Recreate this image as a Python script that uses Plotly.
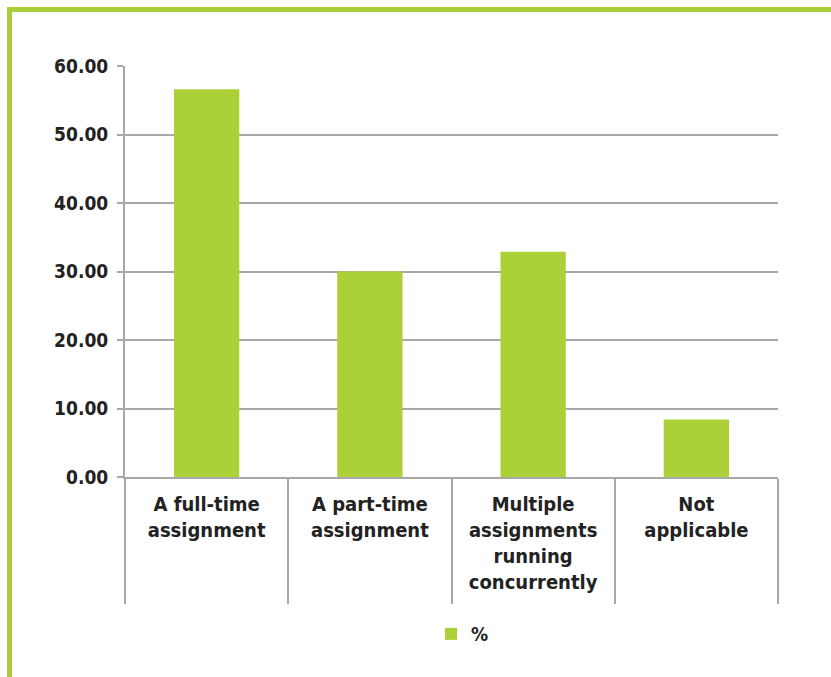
import plotly.graph_objects as go

# Survey responses: type of assignment (share of respondents, %)
categories = [
    "A full-time<br>assignment",
    "A part-time<br>assignment",
    "Multiple<br>assignments<br>running<br>concurrently",
    "Not<br>applicable",
]
values = [56.6, 30.0, 32.9, 8.4]
series_name = "%"
y_ticks = [0, 10, 20, 30, 40, 50, 60]

BAR_GREEN = "#acd037"
FRAME_GREEN = "#a9cf38"
GRID_GRAY = "#a8a8a8"
TEXT = "#222222"
FONT = "DejaVu Sans Condensed, DejaVu Sans"

fig = go.Figure(
    go.Bar(
        x=categories,
        y=values,
        name=series_name,
        marker=dict(color=BAR_GREEN, line=dict(width=0)),
        width=0.4,
        showlegend=True,
    )
)

W, H = 831, 677
L, R, T, B = 125, 53, 66, 200
plot_w = W - L - R
plot_h = H - T - B

fig.update_layout(
    width=W,
    height=H,
    margin=dict(l=L, r=R, t=T, b=B, pad=0),
    paper_bgcolor="white",
    plot_bgcolor="white",
    font=dict(family=FONT, size=19, color=TEXT, weight="bold"),
    showlegend=True,
    legend=dict(
        orientation="h",
        x=(431 - L) / plot_w,
        xanchor="left",
        y=-(634 - (T + plot_h)) / plot_h,
        yanchor="middle",
        font=dict(family=FONT, size=19, color=TEXT, weight="bold"),
        bgcolor="rgba(0,0,0,0)",
    ),
    bargap=0.6,
)

fig.update_yaxes(
    range=[0, 60],
    tickvals=y_ticks,
    tickformat=".2f",
    showgrid=True,
    gridcolor=GRID_GRAY,
    gridwidth=2,
    showline=True,
    linecolor=GRID_GRAY,
    linewidth=2,
    ticks="outside",
    ticklen=6,
    tickwidth=2,
    tickcolor=GRID_GRAY,
    ticklabelstandoff=5,
    zeroline=False,
    tickfont=dict(family=FONT, size=19, color=TEXT, weight="bold"),
    fixedrange=True,
)

fig.update_xaxes(
    type="category",
    showline=True,
    linecolor=GRID_GRAY,
    linewidth=2,
    ticks="outside",
    tickson="boundaries",
    ticklen=125,
    tickwidth=2,
    tickcolor=GRID_GRAY,
    ticklabelstandoff=8,
    showgrid=False,
    tickfont=dict(family=FONT, size=20, color=TEXT, weight="bold"),
    fixedrange=True,
)

# Green frame around the chart panel (top and left edges visible)
fig.add_shape(
    type="rect",
    xref="paper",
    yref="paper",
    x0=(9.5 - L) / plot_w,
    x1=(W + 20 - L) / plot_w,
    y0=-(H + 20 - T - plot_h) / plot_h,
    y1=(T + plot_h - 9.5) / plot_h,
    line=dict(color=FRAME_GREEN, width=5),
    fillcolor="rgba(0,0,0,0)",
    layer="below",
)

fig.write_html("out.html")
